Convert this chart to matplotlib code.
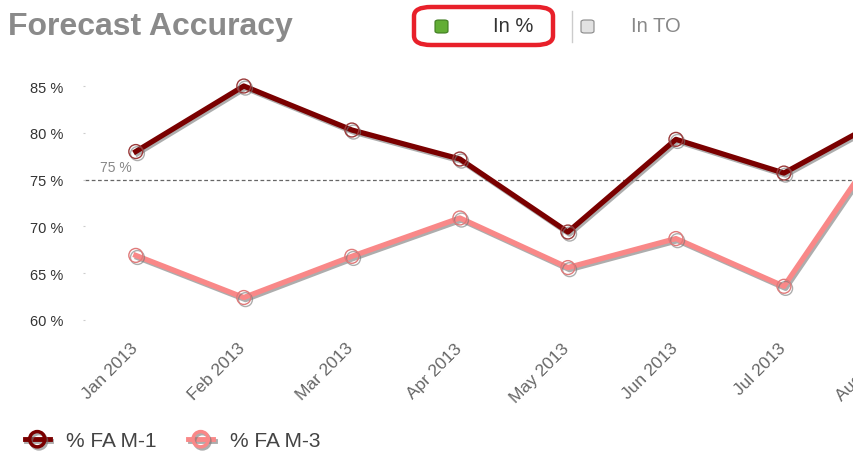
import matplotlib
matplotlib.use("Agg")
import matplotlib.pyplot as plt
import matplotlib.patheffects as pe
import matplotlib.transforms as mtransforms
from matplotlib.patches import FancyBboxPatch
from matplotlib.lines import Line2D

months = ["Jan 2013", "Feb 2013", "Mar 2013", "Apr 2013", "May 2013",
          "Jun 2013", "Jul 2013", "Aug 2013"]
fa_m1 = [78.0, 85.0, 80.3, 77.2, 69.4, 79.3, 75.7, 82.0]
fa_m3 = [66.9, 62.4, 66.8, 70.9, 65.6, 68.7, 63.6, 80.5]
y_ticks = [60, 65, 70, 75, 80, 85]
y_tick_labels = ["60 %", "65 %", "70 %", "75 %", "80 %", "85 %"]
target = 75
series_names = ["% FA M-1", "% FA M-3"]

plt.rcParams['font.family'] = ['Liberation Sans', 'DejaVu Sans']

W, H = 854, 456
fig = plt.figure(figsize=(W / 100, H / 100), dpi=100)

# axes: left at px 85, right beyond the figure edge (chart is cropped)
left_px, right_px = 85, 946
top_px, bot_px = 68.3, 339.7
ax = fig.add_axes([left_px / W, 1 - bot_px / H, (right_px - left_px) / W, (bot_px - top_px) / H])
ax.set_xlim(-0.47, 7.5)
ax.set_ylim(58, 87)
for s in ax.spines.values():
    s.set_visible(False)

x = list(range(len(months)))
shadow = [pe.SimpleLineShadow(offset=(1.2, -1.5), shadow_color='#777777', alpha=0.6), pe.Normal()]

ax.axhline(target, color='#666666', lw=0.9, ls=(0, (3, 2)), zorder=1)
ax.text(-0.33, target + 0.6, "75 %", color='#888888', fontsize=10, ha='left', va='bottom')

ax.plot(x, fa_m1, color='#7a0000', lw=3.8, solid_joinstyle='round', path_effects=shadow, zorder=3,
        marker='o', ms=10, mfc='none', mec='#9a3a3a', mew=1.0)
ax.plot(x, fa_m3, color='#f98888', lw=3.8, solid_joinstyle='round', path_effects=shadow, zorder=3,
        marker='o', ms=10, mfc='none', mec='#e07a7a', mew=1.0)

ax.set_yticks(y_ticks)
ax.set_yticklabels(y_tick_labels, fontsize=10.5, color='#333333')
ax.tick_params(axis='y', length=1.5, color='#cccccc', pad=14)
ax.set_xticks(x)
ax.set_xticklabels(months, rotation=45, ha='right', rotation_mode='anchor',
                   fontsize=12.5, color='#666666')
ax.tick_params(axis='x', length=0, pad=1)
shift = mtransforms.ScaledTranslation(-6 / 100, 0, fig.dpi_scale_trans)
for lbl in ax.get_xticklabels():
    lbl.set_transform(lbl.get_transform() + shift)

# Title
fig.text(8 / W, 1 - 27 / H, "Forecast Accuracy", fontsize=23, fontweight='bold',
         color='#8a8a8a', va='center', ha='left')

# Top toggle controls
box = FancyBboxPatch((414 / W, 1 - 46 / H), (553 - 414) / W, (46 - 8) / H,
                     boxstyle="round,pad=0,rounding_size=0.02", transform=fig.transFigure,
                     fill=False, ec='#e8202a', lw=3.2)
fig.patches.append(box)
green = FancyBboxPatch((435 / W, 1 - 34 / H), 13 / W, 13 / H,
                       boxstyle="round,pad=0,rounding_size=0.004", transform=fig.transFigure,
                       fc='#62ad35', ec='#3d7a1f', lw=0.8)
fig.patches.append(green)
fig.text(493 / W, 1 - 27 / H, "In %", fontsize=14.5, color='#333333', va='center', ha='left')
fig.add_artist(Line2D([572 / W, 572 / W], [1 - 12 / H, 1 - 43 / H], transform=fig.transFigure,
                      color='#cccccc', lw=1))
gray = FancyBboxPatch((581 / W, 1 - 34 / H), 13 / W, 13 / H,
                      boxstyle="round,pad=0,rounding_size=0.004", transform=fig.transFigure,
                      fc='#e2e2e2', ec='#888888', lw=0.8)
fig.patches.append(gray)
fig.text(631 / W, 1 - 27 / H, "In TO", fontsize=14.5, color='#888888', va='center', ha='left')

# Bottom legend
handles = [
    Line2D([], [], color='#7a0000', lw=3.5, marker='o', ms=11, mfc='none', mec='#7a0000', mew=2.5,
           path_effects=shadow),
    Line2D([], [], color='#f98888', lw=3.5, marker='o', ms=11, mfc='none', mec='#f98888', mew=2.5,
           path_effects=shadow),
]
fig.legend(handles, series_names, loc='center left', bbox_to_anchor=(6 / W, 1 - 442 / H),
           ncol=2, frameon=False, fontsize=15, handlelength=1.2, handletextpad=0.8,
           columnspacing=1.5, labelcolor='#444444')

fig.savefig("out.png", dpi=100)
